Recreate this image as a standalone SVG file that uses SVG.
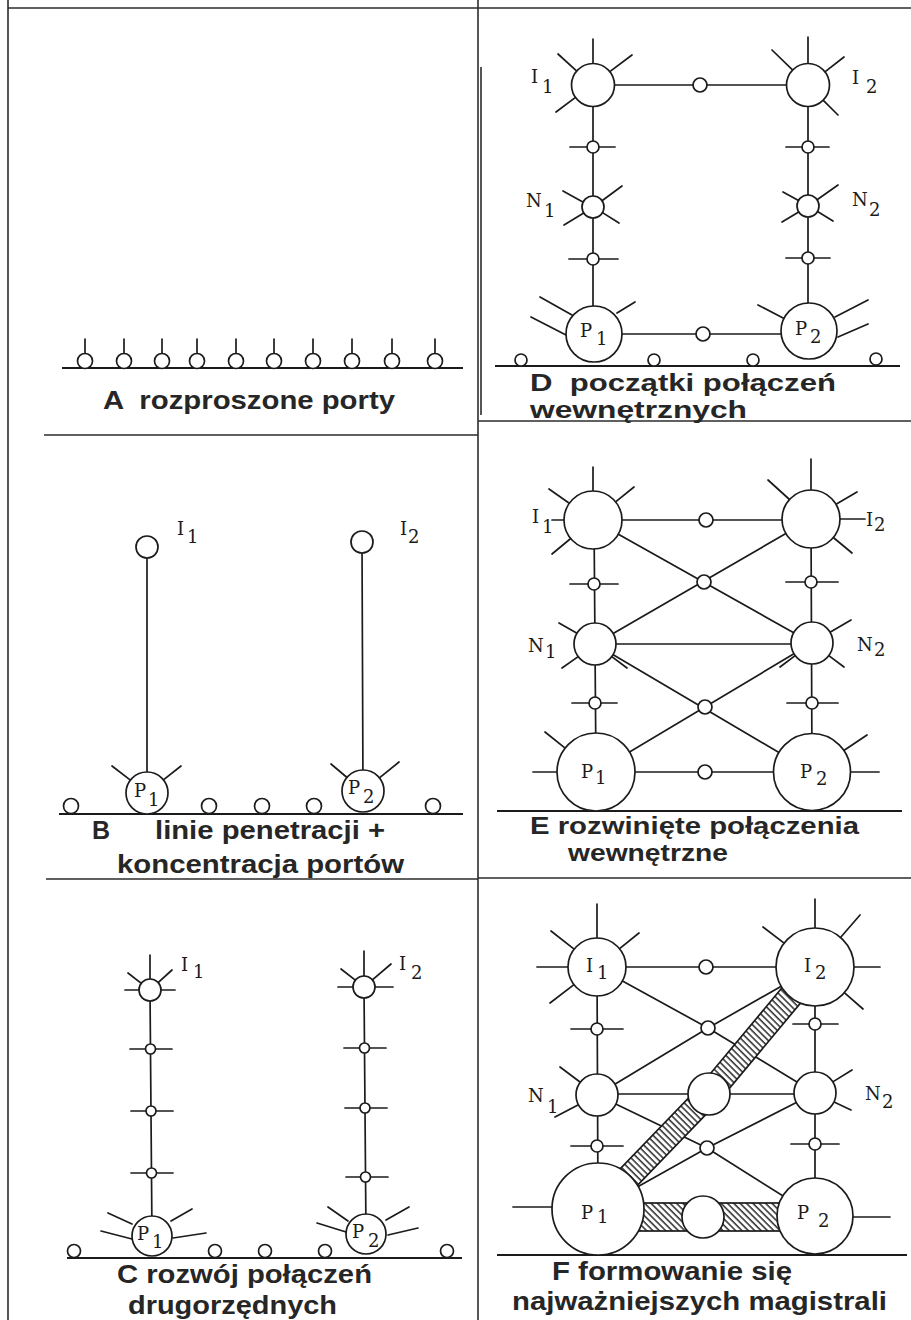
<svg xmlns="http://www.w3.org/2000/svg" width="911" height="1320" viewBox="0 0 911 1320">
<defs>
<style>
.ln{stroke:#1b1b1b;stroke-width:1.7;fill:none;stroke-linecap:round}
.gr{stroke:#1b1b1b;stroke-width:2;fill:none}
.fr{stroke:#2b2b2b;stroke-width:1.6;fill:none}
.nd{fill:#fff;stroke:#1b1b1b;stroke-width:1.7}
.lab{font-family:"DejaVu Serif","Liberation Serif",serif;font-size:18px;fill:#1b1b1b}
.cap{font-family:"Liberation Sans",Arial,sans-serif;font-weight:bold;font-size:25px;fill:#262626}
.cap2{font-size:24px}
.hatch{fill:url(#hatch);stroke:#1b1b1b;stroke-width:1.7}
</style>
<pattern id="hatch" patternUnits="userSpaceOnUse" width="4.5" height="4.5" patternTransform="rotate(-45)">
<rect width="4.5" height="4.5" fill="#fff"/>
<line x1="1" y1="0" x2="1" y2="4.5" stroke="#1b1b1b" stroke-width="1.4"/>
</pattern>
</defs>
<rect width="911" height="1320" fill="#fff"/>

<g id="frame">
<line class="fr" x1="8" y1="0" x2="8" y2="1320"/>
<line class="fr" x1="8" y1="8" x2="911" y2="8"/>
<line class="fr" x1="478" y1="0" x2="478" y2="1320"/>
<line class="fr" x1="481" y1="67" x2="481" y2="415" stroke-width="2"/>
<line class="fr" x1="44" y1="435" x2="478" y2="435"/>
<line class="fr" x1="46" y1="879" x2="478" y2="879"/>
<line class="fr" x1="478" y1="421" x2="911" y2="421"/>
<line class="fr" x1="478" y1="878" x2="911" y2="878"/>
</g>

<!-- PANEL A -->
<g id="panelA">
<line class="gr" x1="62" y1="368" x2="463" y2="368"/>
<g id="A-port1"><line class="ln" x1="85" y1="339" x2="85" y2="353"/><circle class="nd" cx="85" cy="361" r="7.5"/></g>
<g id="A-port2"><line class="ln" x1="124" y1="339" x2="124" y2="353"/><circle class="nd" cx="124" cy="361" r="7.5"/></g>
<g id="A-port3"><line class="ln" x1="162" y1="339" x2="162" y2="353"/><circle class="nd" cx="162" cy="361" r="7.5"/></g>
<g id="A-port4"><line class="ln" x1="197" y1="339" x2="197" y2="353"/><circle class="nd" cx="197" cy="361" r="7.5"/></g>
<g id="A-port5"><line class="ln" x1="236" y1="339" x2="236" y2="353"/><circle class="nd" cx="236" cy="361" r="7.5"/></g>
<g id="A-port6"><line class="ln" x1="274" y1="339" x2="274" y2="353"/><circle class="nd" cx="274" cy="361" r="7.5"/></g>
<g id="A-port7"><line class="ln" x1="313" y1="339" x2="313" y2="353"/><circle class="nd" cx="313" cy="361" r="7.5"/></g>
<g id="A-port8"><line class="ln" x1="352" y1="339" x2="352" y2="353"/><circle class="nd" cx="352" cy="361" r="7.5"/></g>
<g id="A-port9"><line class="ln" x1="392" y1="339" x2="392" y2="353"/><circle class="nd" cx="392" cy="361" r="7.5"/></g>
<g id="A-port10"><line class="ln" x1="435" y1="339" x2="435" y2="353"/><circle class="nd" cx="435" cy="361" r="7.5"/></g>
<text class="cap" x="103" y="409" textLength="292" lengthAdjust="spacingAndGlyphs" xml:space="preserve">A  rozproszone porty</text>
</g>

<!-- PANEL B -->
<g id="panelB">
<g id="B-connectors">
<line class="ln" x1="147" y1="547" x2="147" y2="793"/>
<line class="ln" x1="362" y1="542" x2="363" y2="791"/>
</g>
<line class="gr" x1="59" y1="814" x2="463" y2="814"/>
<g id="B-I1"><circle class="nd" cx="147" cy="547" r="11"/><text class="lab" x="177" y="535">I<tspan x="187" y="543">1</tspan></text></g>
<g id="B-I2"><circle class="nd" cx="362" cy="542" r="11"/><text class="lab" x="400" y="535">I<tspan x="408" y="543">2</tspan></text></g>
<g id="B-P1">
<line class="ln" x1="130.4" y1="780.2" x2="112" y2="766"/><line class="ln" x1="163.4" y1="779.9" x2="181" y2="766"/>
<circle class="nd" cx="147" cy="793" r="21"/>
<text class="lab" x="134" y="797">P<tspan x="148" y="806">1</tspan></text></g>
<g id="B-P2">
<line class="ln" x1="347" y1="777.5" x2="331" y2="764"/><line class="ln" x1="379.4" y1="777.8" x2="399" y2="762"/>
<circle class="nd" cx="363" cy="791" r="21"/>
<text class="lab" x="348" y="794">P<tspan x="363" y="803">2</tspan></text></g>
<g id="B-ports">
<circle class="nd" cx="71" cy="806" r="7.5"/><circle class="nd" cx="209" cy="806" r="7.5"/><circle class="nd" cx="262" cy="806" r="7.5"/><circle class="nd" cx="314" cy="806" r="7.5"/><circle class="nd" cx="433" cy="806" r="7.5"/>
</g>
<text class="cap" y="839"><tspan x="92">B</tspan> <tspan x="155" textLength="230" lengthAdjust="spacingAndGlyphs">linie penetracji +</tspan></text>
<text class="cap" x="117" y="873" textLength="287" lengthAdjust="spacingAndGlyphs">koncentracja portów</text>
</g>

<!-- PANEL C -->
<g id="panelC">
<g id="C-connectors">
<line class="ln" x1="150" y1="990" x2="152" y2="1236"/>
<line class="ln" x1="364" y1="987" x2="366" y2="1234"/>
</g>
<line class="gr" x1="67" y1="1258" x2="462" y2="1258"/>
<g id="C-I1">
<line class="ln" x1="150" y1="979" x2="150" y2="955"/>
<line class="ln" x1="141.3" y1="983.3" x2="128" y2="973"/>
<line class="ln" x1="158.1" y1="982.6" x2="172" y2="970"/>
<line class="ln" x1="125" y1="990" x2="139" y2="990"/>
<line class="ln" x1="161" y1="990" x2="175" y2="990"/>
<circle class="nd" cx="150" cy="990" r="11"/>
<text class="lab" x="181" y="971">I<tspan x="193" y="978">1</tspan></text></g>
<g id="C-I2">
<line class="ln" x1="364" y1="976" x2="364" y2="951"/>
<line class="ln" x1="355.3" y1="980.2" x2="341" y2="969"/>
<line class="ln" x1="372.4" y1="979.9" x2="391" y2="964"/>
<line class="ln" x1="338" y1="987" x2="353" y2="987"/>
<line class="ln" x1="375" y1="987" x2="393" y2="987"/>
<circle class="nd" cx="364" cy="987" r="11"/>
<text class="lab" x="399" y="970">I<tspan x="411" y="979">2</tspan></text></g>
<g id="C-n1"><line class="ln" x1="130" y1="1049" x2="172" y2="1049"/><circle class="nd" cx="150.5" cy="1049" r="5"/></g>
<g id="C-n2"><line class="ln" x1="131" y1="1111" x2="173" y2="1111"/><circle class="nd" cx="151" cy="1111" r="5"/></g>
<g id="C-n3"><line class="ln" x1="131" y1="1173" x2="173" y2="1173"/><circle class="nd" cx="151.5" cy="1173" r="5"/></g>
<g id="C-n4"><line class="ln" x1="344" y1="1048" x2="386" y2="1048"/><circle class="nd" cx="364.5" cy="1048" r="5"/></g>
<g id="C-n5"><line class="ln" x1="345" y1="1108" x2="387" y2="1108"/><circle class="nd" cx="365" cy="1108" r="5"/></g>
<g id="C-n6"><line class="ln" x1="346" y1="1177" x2="388" y2="1177"/><circle class="nd" cx="365.5" cy="1177" r="5"/></g>
<g id="C-P1">
<line class="ln" x1="108" y1="1213" x2="132" y2="1224"/>
<line class="ln" x1="192" y1="1209" x2="171" y2="1221"/>
<line class="ln" x1="101" y1="1231" x2="132" y2="1239"/>
<line class="ln" x1="206" y1="1233" x2="173" y2="1238"/>
<circle class="nd" cx="152" cy="1236" r="20"/>
<text class="lab" x="137" y="1240">P<tspan x="152" y="1248">1</tspan></text></g>
<g id="C-P2">
<line class="ln" x1="328" y1="1207" x2="348" y2="1221"/>
<line class="ln" x1="409" y1="1207" x2="386" y2="1220"/>
<line class="ln" x1="317" y1="1223" x2="346" y2="1232"/>
<line class="ln" x1="418" y1="1228" x2="388" y2="1235"/>
<circle class="nd" cx="366" cy="1234" r="20"/>
<text class="lab" x="352" y="1238">P<tspan x="368" y="1247">2</tspan></text></g>
<g id="C-ports">
<circle class="nd" cx="74" cy="1251" r="6.5"/><circle class="nd" cx="215" cy="1251" r="6.5"/><circle class="nd" cx="265" cy="1251" r="6.5"/><circle class="nd" cx="325" cy="1251" r="6.5"/><circle class="nd" cx="447" cy="1251" r="6.5"/>
</g>
<text class="cap" x="117" y="1283" textLength="255" lengthAdjust="spacingAndGlyphs">C rozwój połączeń</text>
<text class="cap" x="128" y="1314" textLength="209" lengthAdjust="spacingAndGlyphs">drugorzędnych</text>
</g>

<!-- PANEL D -->
<g id="panelD">
<g id="D-connectors">
<line class="ln" x1="593" y1="85" x2="593" y2="334"/>
<line class="ln" x1="808" y1="85" x2="808" y2="331"/>
<line class="ln" x1="593" y1="85" x2="808" y2="85"/>
<line class="ln" x1="593" y1="334" x2="808" y2="334"/>
</g>
<line class="gr" x1="495" y1="366" x2="900" y2="366"/>
<g id="D-I1">
<line class="ln" x1="593" y1="64" x2="593" y2="39"/>
<line class="ln" x1="576.5" y1="70.8" x2="558" y2="54"/>
<line class="ln" x1="608.8" y1="72.4" x2="632" y2="55"/>
<line class="ln" x1="575.2" y1="97.6" x2="556" y2="112"/>
<circle class="nd" cx="593" cy="85" r="21.5"/>
<text class="lab" x="531" y="83">I<tspan x="542" y="93">1</tspan></text></g>
<g id="D-I2">
<line class="ln" x1="808" y1="64" x2="808" y2="37"/>
<line class="ln" x1="793" y1="70.4" x2="772" y2="50"/>
<line class="ln" x1="824.6" y1="72.1" x2="844" y2="57"/>
<line class="ln" x1="822.8" y1="99.8" x2="838" y2="115"/>
<circle class="nd" cx="808" cy="85" r="21.5"/>
<text class="lab" x="852" y="84">I<tspan x="866" y="93">2</tspan></text></g>
<g id="D-j1"><circle class="nd" cx="700" cy="85" r="7"/></g>
<g id="D-c1"><line class="ln" x1="570" y1="147" x2="615" y2="147"/><circle class="nd" cx="593" cy="147" r="6"/></g>
<g id="D-c2"><line class="ln" x1="786" y1="147" x2="829" y2="147"/><circle class="nd" cx="808" cy="147" r="6"/></g>
<g id="D-N1">
<line class="ln" x1="582.4" y1="201.7" x2="563" y2="191"/>
<line class="ln" x1="602" y1="200.7" x2="622" y2="186"/>
<line class="ln" x1="583.7" y1="213" x2="564" y2="225"/>
<line class="ln" x1="602.5" y1="212.6" x2="619" y2="223"/>
<circle class="nd" cx="593" cy="207" r="11"/>
<text class="lab" x="526" y="207">N<tspan x="544" y="217">1</tspan></text></g>
<g id="D-N2">
<line class="ln" x1="798.5" y1="200.5" x2="783" y2="192"/>
<line class="ln" x1="817.1" y1="199.8" x2="838" y2="185"/>
<line class="ln" x1="798.7" y1="211.9" x2="782" y2="222"/>
<line class="ln" x1="817.5" y1="211.5" x2="833" y2="221"/>
<circle class="nd" cx="808" cy="206" r="11"/>
<text class="lab" x="852" y="206">N<tspan x="869" y="216">2</tspan></text></g>
<g id="D-c3"><line class="ln" x1="569" y1="259" x2="618" y2="259"/><circle class="nd" cx="593" cy="259" r="6"/></g>
<g id="D-c4"><line class="ln" x1="786" y1="258" x2="830" y2="258"/><circle class="nd" cx="808" cy="258" r="6"/></g>
<g id="D-P1">
<line class="ln" x1="540" y1="297" x2="572" y2="315"/>
<line class="ln" x1="531" y1="317" x2="566" y2="335"/>
<line class="ln" x1="635" y1="302" x2="617" y2="313"/>
<circle class="nd" cx="594" cy="334" r="28"/>
<text class="lab" x="580" y="337">P<tspan x="596" y="345">1</tspan></text></g>
<g id="D-P2">
<line class="ln" x1="758" y1="305" x2="785" y2="319"/>
<line class="ln" x1="868" y1="300" x2="835" y2="317"/>
<line class="ln" x1="868" y1="324" x2="838" y2="337"/>
<circle class="nd" cx="809" cy="331" r="28"/>
<text class="lab" x="795" y="335">P<tspan x="810" y="343">2</tspan></text></g>
<g id="D-j2"><circle class="nd" cx="703" cy="334" r="7"/></g>
<g id="D-ports">
<circle class="nd" cx="521" cy="360" r="6"/><circle class="nd" cx="654" cy="360" r="6"/><circle class="nd" cx="753" cy="360" r="6"/><circle class="nd" cx="876" cy="359" r="6"/>
</g>
<text class="cap cap2" x="530" y="391" textLength="306" lengthAdjust="spacingAndGlyphs" xml:space="preserve">D  początki połączeń</text>
<text class="cap cap2" x="530" y="418" textLength="217" lengthAdjust="spacingAndGlyphs">wewnętrznych</text>
</g>

<!-- PANEL E -->
<g id="panelE">
<g id="E-connectors">
<line class="ln" x1="594" y1="520" x2="596" y2="772"/>
<line class="ln" x1="811" y1="519" x2="812" y2="772"/>
<line class="ln" x1="593" y1="520" x2="811" y2="520"/>
<line class="ln" x1="595" y1="644" x2="812" y2="644"/>
<line class="ln" x1="596" y1="772" x2="812" y2="772"/>
<line class="ln" x1="593" y1="520" x2="812" y2="643"/>
<line class="ln" x1="811" y1="519" x2="595" y2="644"/>
<line class="ln" x1="595" y1="644" x2="812" y2="772"/>
<line class="ln" x1="812" y1="643" x2="596" y2="772"/>
</g>
<line class="gr" x1="497" y1="811" x2="902" y2="811"/>
<g id="E-I1">
<line class="ln" x1="593" y1="491" x2="593" y2="467"/>
<line class="ln" x1="569.3" y1="503.3" x2="549" y2="489"/>
<line class="ln" x1="615.6" y1="501.8" x2="634" y2="487"/>
<line class="ln" x1="552" y1="520" x2="564" y2="520"/>
<line class="ln" x1="570.7" y1="538.5" x2="552" y2="554"/>
<circle class="nd" cx="593" cy="520" r="29"/>
<text class="lab" x="532" y="523">I<tspan x="542" y="533">1</tspan></text></g>
<g id="E-I2">
<line class="ln" x1="811" y1="490" x2="811" y2="459"/>
<line class="ln" x1="789.5" y1="499.5" x2="768" y2="480"/>
<line class="ln" x1="836" y1="504.3" x2="857" y2="492"/>
<line class="ln" x1="840" y1="519" x2="865" y2="519"/>
<line class="ln" x1="833.3" y1="537.5" x2="852" y2="553"/>
<circle class="nd" cx="811" cy="519" r="29"/>
<text class="lab" x="866" y="526">I<tspan x="874" y="531">2</tspan></text></g>
<g id="E-j1"><circle class="nd" cx="706" cy="520" r="7"/></g>
<g id="E-j2"><circle class="nd" cx="704" cy="582" r="7"/></g>
<g id="E-c1"><line class="ln" x1="570" y1="584" x2="618" y2="584"/><circle class="nd" cx="594" cy="584" r="6"/></g>
<g id="E-c2"><line class="ln" x1="786" y1="582" x2="838" y2="582"/><circle class="nd" cx="811" cy="582" r="6"/></g>
<g id="E-N1">
<line class="ln" x1="577" y1="633.2" x2="559" y2="623"/>
<line class="ln" x1="578.2" y1="656.6" x2="562" y2="668"/>
<line class="ln" x1="611.8" y1="656.6" x2="627" y2="668"/>
<circle class="nd" cx="595" cy="644" r="21"/>
<text class="lab" x="528" y="652">N<tspan x="545" y="658">1</tspan></text></g>
<g id="E-N2">
<line class="ln" x1="830" y1="632.3" x2="851" y2="620"/>
<line class="ln" x1="795.2" y1="655.6" x2="780" y2="667"/>
<line class="ln" x1="828.8" y1="655.6" x2="844" y2="667"/>
<circle class="nd" cx="812" cy="643" r="21"/>
<text class="lab" x="857" y="651">N<tspan x="874" y="656">2</tspan></text></g>
<g id="E-j3"><circle class="nd" cx="705" cy="707" r="7"/></g>
<g id="E-c3"><line class="ln" x1="572" y1="703" x2="617" y2="703"/><circle class="nd" cx="595" cy="703" r="6"/></g>
<g id="E-c4"><line class="ln" x1="787" y1="703" x2="838" y2="703"/><circle class="nd" cx="812" cy="703" r="6"/></g>
<g id="E-P1">
<line class="ln" x1="564.5" y1="747.6" x2="545" y2="732"/>
<line class="ln" x1="533" y1="772" x2="557" y2="772"/>
<circle class="nd" cx="596" cy="772" r="39"/>
<text class="lab" x="581" y="778">P<tspan x="595" y="784">1</tspan></text></g>
<g id="E-P2">
<line class="ln" x1="843.5" y1="750.8" x2="867" y2="735"/>
<line class="ln" x1="850" y1="772" x2="879" y2="772"/>
<circle class="nd" cx="812" cy="772" r="38.5"/>
<text class="lab" x="800" y="778">P<tspan x="816" y="785">2</tspan></text></g>
<g id="E-j4"><circle class="nd" cx="705" cy="772" r="7"/></g>
<text class="cap cap2" x="530" y="834" textLength="329" lengthAdjust="spacingAndGlyphs">E rozwinięte połączenia</text>
<text class="cap cap2" x="568" y="861" textLength="160" lengthAdjust="spacingAndGlyphs">wewnętrzne</text>
</g>

<!-- PANEL F -->
<g id="panelF">
<g id="F-connectors">
<line class="ln" x1="597" y1="967" x2="598" y2="1209"/>
<line class="ln" x1="815" y1="967" x2="815" y2="1216"/>
<line class="ln" x1="597" y1="967" x2="815" y2="967"/>
<line class="ln" x1="597" y1="1094" x2="815" y2="1094"/>
<polyline class="ln" points="597,967 708,1028 815,1093"/>
<polyline class="ln" points="815,967 708,1028 597,1095"/>
<polyline class="ln" points="597,1095 707,1148 815,1216"/>
<polyline class="ln" points="815,1093 707,1148 598,1209"/>
</g>
<g id="F-trunks">
<polygon class="hatch" points="824.2,974.7 718.2,1101.7 699.8,1086.3 805.8,959.3"/>
<polygon class="hatch" points="717.6,1102.3 606.6,1217.3 589.4,1200.7 700.4,1085.7"/>
<rect class="hatch" x="630" y="1203" width="160" height="28"/>
</g>
<line class="gr" x1="497" y1="1255" x2="907" y2="1255"/>
<g id="F-I1">
<line class="ln" x1="597" y1="938" x2="597" y2="904"/>
<line class="ln" x1="574.1" y1="949.1" x2="551" y2="931"/>
<line class="ln" x1="619.6" y1="948.7" x2="639" y2="933"/>
<line class="ln" x1="537" y1="967" x2="568" y2="967"/>
<line class="ln" x1="574" y1="984.6" x2="550" y2="1003"/>
<circle class="nd" cx="597" cy="967" r="29"/>
<text class="lab" x="586" y="972">I<tspan x="597" y="979">1</tspan></text></g>
<g id="F-I2">
<line class="ln" x1="815" y1="928" x2="815" y2="899"/>
<line class="ln" x1="784.1" y1="943.2" x2="763" y2="927"/>
<line class="ln" x1="840.5" y1="937.5" x2="860" y2="915"/>
<line class="ln" x1="854" y1="967" x2="880" y2="967"/>
<line class="ln" x1="844.3" y1="992.7" x2="863" y2="1009"/>
<circle class="nd" cx="815" cy="967" r="39"/>
<text class="lab" x="804" y="972">I<tspan x="815" y="979">2</tspan></text></g>
<g id="F-j1"><circle class="nd" cx="706" cy="967" r="7"/></g>
<g id="F-j2"><circle class="nd" cx="708" cy="1028" r="7"/></g>
<g id="F-c1"><line class="ln" x1="571" y1="1029" x2="623" y2="1029"/><circle class="nd" cx="597" cy="1029" r="6"/></g>
<g id="F-c2"><line class="ln" x1="793" y1="1024" x2="838" y2="1024"/><circle class="nd" cx="815" cy="1024" r="6"/></g>
<g id="F-N1">
<line class="ln" x1="580.3" y1="1082.3" x2="560" y2="1067"/>
<line class="ln" x1="578.4" y1="1104.7" x2="555" y2="1117"/>
<circle class="nd" cx="597" cy="1095" r="21"/>
<text class="lab" x="528" y="1102">N<tspan x="547" y="1113">1</tspan></text></g>
<g id="F-M"><circle class="nd" cx="709" cy="1094" r="21"/></g>
<g id="F-N2">
<line class="ln" x1="832.8" y1="1081.9" x2="852" y2="1070"/>
<line class="ln" x1="834" y1="1102" x2="851" y2="1110"/>
<circle class="nd" cx="815" cy="1093" r="21"/>
<text class="lab" x="865" y="1100">N<tspan x="882" y="1108">2</tspan></text></g>
<g id="F-j3"><circle class="nd" cx="707" cy="1148" r="7"/></g>
<g id="F-c3"><line class="ln" x1="571" y1="1146" x2="623" y2="1146"/><circle class="nd" cx="597" cy="1146" r="6"/></g>
<g id="F-c4"><line class="ln" x1="791" y1="1144" x2="839" y2="1144"/><circle class="nd" cx="815" cy="1144" r="6"/></g>
<g id="F-P1">
<line class="ln" x1="513" y1="1207" x2="552" y2="1207"/>
<circle class="nd" cx="598" cy="1209" r="46"/>
<text class="lab" x="581" y="1219">P<tspan x="597" y="1223">1</tspan></text></g>
<g id="F-M2"><circle class="nd" cx="703" cy="1217" r="21"/></g>
<g id="F-P2">
<line class="ln" x1="853" y1="1217" x2="890" y2="1217"/>
<circle class="nd" cx="815" cy="1216" r="38"/>
<text class="lab" x="797" y="1219">P<tspan x="818" y="1227">2</tspan></text></g>
<text class="cap" x="552" y="1280" textLength="240" lengthAdjust="spacingAndGlyphs">F formowanie się</text>
<text class="cap" x="512" y="1310" textLength="375" lengthAdjust="spacingAndGlyphs">najważniejszych magistrali</text>
</g>
</svg>
